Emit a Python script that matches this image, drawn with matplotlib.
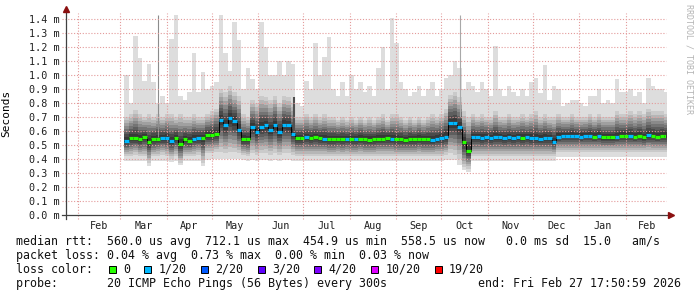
import numpy as np
import matplotlib
matplotlib.use("Agg")
import matplotlib.pyplot as plt
import matplotlib.dates as mdates
from matplotlib.patches import Rectangle
from datetime import datetime, timedelta

# ---------------- data (values in milliseconds, 3-day bins) ----------------
BIN_START = datetime(2025, 3, 3, 12, 0)
BIN_DAYS = 3

MED = [0.53, 0.55, 0.55, 0.54, 0.555, 0.52, 0.54, 0.545, 0.55, 0.55,
       0.53, 0.55, 0.51, 0.54, 0.53, 0.545, 0.55, 0.55, 0.57, 0.57,
       0.58, 0.68, 0.64, 0.69, 0.67, 0.61, 0.54, 0.54, 0.63, 0.59,
       0.63, 0.64, 0.61, 0.64, 0.59, 0.645, 0.64, 0.58, 0.55, 0.55,
       0.555, 0.55, 0.555, 0.55, 0.545, 0.54, 0.54, 0.545, 0.54, 0.545,
       0.54, 0.54, 0.545, 0.54, 0.535, 0.54, 0.545, 0.545, 0.55, 0.545,
       0.54, 0.54, 0.535, 0.54, 0.54, 0.545, 0.54, 0.54, 0.535, 0.545,
       0.55, 0.56, 0.655, 0.655, 0.63, 0.52, 0.46, 0.555, 0.555, 0.55,
       0.555, 0.55, 0.555, 0.555, 0.55, 0.555, 0.55, 0.555, 0.55, 0.555,
       0.55, 0.55, 0.545, 0.55, 0.55, 0.525, 0.56, 0.565, 0.565, 0.565,
       0.565, 0.56, 0.565, 0.565, 0.56, 0.565, 0.555, 0.555, 0.555, 0.56,
       0.565, 0.565, 0.565, 0.56, 0.565, 0.555, 0.57, 0.565, 0.56, 0.565, 0.565]

LOSS = [1, 0, 0, 0, 0, 0, 0, 0, 1, 1,
        1, 0, 0, 0, 0, 1, 1, 0, 0, 0,
        0, 1, 1, 1, 1, 1, 0, 0, 1, 1,
        1, 1, 1, 1, 1, 1, 1, 1, 0, 0,
        1, 0, 0, 0, 1, 0, 0, 0, 0, 1,
        0, 1, 0, 0, 0, 0, 0, 0, 0, 1,
        0, 0, 0, 0, 0, 0, 0, 0, 1, 1,
        1, 1, 1, 1, 1, 0, 0, 1, 1, 1,
        1, 1, 1, 1, 1, 1, 1, 1, 0, 1,
        1, 1, 1, 1, 1, 1, 1, 1, 1, 1,
        1, 1, 1, 1, 0, 1, 0, 0, 0, 1,
        0, 0, 1, 0, 0, 0, 1, 0, 0, 0, 0]

MX = [1.00, 0.80, 1.28, 1.12, 0.96, 1.08, 0.95, 0.80, 0.85, 0.80,
      1.26, 1.43, 0.85, 0.82, 0.88, 1.16, 0.88, 1.02, 0.90, 0.92,
      0.95, 1.43, 1.16, 1.03, 1.38, 1.25, 0.90, 1.05, 0.97, 0.90,
      1.38, 1.20, 1.00, 1.00, 1.10, 1.00, 1.10, 1.08, 0.80, 0.78,
      0.96, 0.90, 1.23, 1.00, 1.13, 1.27, 0.90, 0.85, 0.95, 0.85,
      1.00, 0.90, 0.95, 0.88, 0.92, 0.85, 1.05, 1.20, 0.90, 1.41,
      1.23, 0.95, 0.90, 0.85, 0.88, 0.92, 0.85, 0.90, 0.95, 0.85,
      0.90, 0.98, 1.00, 1.10, 1.05, 0.90, 0.95, 0.92, 0.88, 0.95,
      0.90, 0.85, 1.21, 0.90, 0.85, 0.92, 0.88, 0.85, 0.90, 0.85,
      0.95, 0.98, 0.87, 1.07, 0.82, 0.92, 0.90, 0.78, 0.80, 0.82,
      0.82, 0.80, 0.78, 0.85, 0.85, 0.90, 0.80, 0.82, 0.80, 0.97,
      0.88, 0.88, 0.90, 0.85, 0.88, 0.80, 0.98, 0.92, 0.90, 0.90, 0.88]

Q_HI = [0.70, 0.72, 0.75, 0.72, 0.70, 0.72, 0.70, 0.72, 0.70, 0.72,
        0.72, 0.70, 0.72, 0.70, 0.70, 0.72, 0.70, 0.70, 0.72, 0.74,
        0.76, 0.90, 0.88, 0.92, 0.88, 0.85, 0.72, 0.70, 0.82, 0.80,
        0.85, 0.84, 0.82, 0.85, 0.80, 0.85, 0.84, 0.80, 0.70, 0.70,
        0.72, 0.70, 0.72, 0.70, 0.72, 0.70, 0.70, 0.68, 0.70, 0.68,
        0.70, 0.68, 0.70, 0.68, 0.70, 0.68, 0.70, 0.72, 0.68, 0.72,
        0.72, 0.70, 0.68, 0.70, 0.68, 0.70, 0.68, 0.70, 0.72, 0.70,
        0.72, 0.76, 0.86, 0.88, 0.84, 0.74, 0.70, 0.72, 0.70, 0.72,
        0.70, 0.70, 0.74, 0.70, 0.70, 0.72, 0.70, 0.70, 0.72, 0.70,
        0.72, 0.74, 0.70, 0.72, 0.70, 0.70, 0.72, 0.70, 0.70, 0.72,
        0.70, 0.70, 0.70, 0.72, 0.70, 0.72, 0.70, 0.70, 0.70, 0.74,
        0.72, 0.72, 0.74, 0.72, 0.74, 0.72, 0.76, 0.74, 0.74, 0.74, 0.72]

Q_LO = [0.42, 0.42, 0.43, 0.42, 0.42, 0.37, 0.42, 0.42, 0.43, 0.42,
        0.40, 0.42, 0.37, 0.42, 0.42, 0.42, 0.43, 0.37, 0.44, 0.44,
        0.45, 0.45, 0.44, 0.45, 0.45, 0.44, 0.43, 0.42, 0.44, 0.43,
        0.44, 0.44, 0.43, 0.44, 0.43, 0.44, 0.44, 0.43, 0.42, 0.42,
        0.42, 0.42, 0.42, 0.42, 0.42, 0.42, 0.42, 0.42, 0.42, 0.42,
        0.42, 0.42, 0.42, 0.42, 0.42, 0.42, 0.42, 0.42, 0.42, 0.42,
        0.42, 0.42, 0.42, 0.42, 0.42, 0.42, 0.42, 0.42, 0.42, 0.42,
        0.42, 0.43, 0.44, 0.43, 0.40, 0.34, 0.33, 0.42, 0.42, 0.42,
        0.42, 0.42, 0.42, 0.42, 0.42, 0.42, 0.42, 0.42, 0.42, 0.42,
        0.42, 0.42, 0.42, 0.42, 0.42, 0.42, 0.45, 0.45, 0.45, 0.45,
        0.45, 0.45, 0.45, 0.45, 0.45, 0.45, 0.45, 0.45, 0.45, 0.45,
        0.45, 0.45, 0.45, 0.45, 0.45, 0.45, 0.45, 0.45, 0.45, 0.45, 0.45]

MN = [0.385, 0.385, 0.385, 0.385, 0.385, 0.35, 0.385, 0.385, 0.385, 0.385,
      0.38, 0.385, 0.36, 0.385, 0.385, 0.385, 0.385, 0.35, 0.39, 0.40,
      0.40, 0.40, 0.40, 0.40, 0.40, 0.40, 0.39, 0.385, 0.39, 0.385,
      0.39, 0.39, 0.385, 0.39, 0.385, 0.39, 0.39, 0.385, 0.385, 0.385,
      0.385, 0.385, 0.385, 0.385, 0.385, 0.385, 0.385, 0.385, 0.385, 0.385,
      0.385, 0.385, 0.385, 0.385, 0.385, 0.385, 0.385, 0.385, 0.385, 0.385,
      0.385, 0.385, 0.385, 0.385, 0.385, 0.385, 0.385, 0.385, 0.385, 0.385,
      0.385, 0.39, 0.39, 0.39, 0.36, 0.32, 0.31, 0.385, 0.385, 0.385,
      0.385, 0.385, 0.385, 0.385, 0.385, 0.385, 0.385, 0.385, 0.385, 0.385,
      0.385, 0.385, 0.385, 0.385, 0.385, 0.385, 0.415, 0.415, 0.415, 0.415,
      0.415, 0.415, 0.415, 0.415, 0.415, 0.415, 0.415, 0.415, 0.415, 0.415,
      0.415, 0.415, 0.415, 0.415, 0.415, 0.415, 0.415, 0.415, 0.415, 0.415, 0.415]

# outlier spikes (single samples drawn as thin darker lines)
SPIKE_DATES = [datetime(2025, 3, 25, 18), datetime(2025, 6, 24, 18), datetime(2025, 10, 13, 16)]
SPIKE_LO = [0.56, 0.60, 0.70]
SPIKE_HI = [1.43, 0.84, 1.43]
SPIKE_COLOR = ['#8c8c8c', '#505050', '#a8a8a8']

Y_TICKS = [0.0, 0.1, 0.2, 0.3, 0.4, 0.5, 0.6, 0.7, 0.8, 0.9, 1.0, 1.1, 1.2, 1.3, 1.4]
MONTHS = ["Feb", "Mar", "Apr", "May", "Jun", "Jul", "Aug", "Sep", "Oct", "Nov", "Dec", "Jan", "Feb"]

LOSS_LABELS = ["0", "1/20", "2/20", "3/20", "4/20", "10/20", "19/20"]
LOSS_COLORS = ["#26ff00", "#00b8ff", "#0059ff", "#5e00ff", "#7e00ff", "#dd00ff", "#ff0000"]

LINE1 = "median rtt:  560.0 us avg  712.1 us max  454.9 us min  558.5 us now   0.0 ms sd  15.0   am/s"
LINE2 = "packet loss: 0.04 % avg  0.73 % max  0.00 % min  0.03 % now"
LINE3 = "loss color:"
LINE4 = "probe:       20 ICMP Echo Pings (56 Bytes) every 300s"
END_TEXT = "end: Fri Feb 27 17:50:59 2026"

END = datetime(2026, 2, 27, 17, 50, 59)
START = END - timedelta(days=400)

# ---------------- figure ----------------
W, H = 697, 297
MONO = 'DejaVu Sans Mono'
fig = plt.figure(figsize=(W / 100, H / 100), dpi=100)
fig.patch.set_facecolor('white')
ax_l, ax_b, ax_w, ax_h = 66, 82, 600, 202
ax = fig.add_axes([ax_l / W, ax_b / H, ax_w / W, ax_h / H])
ax.set_facecolor('white')
ymax = 1.4 * 202 / 196
ax.set_ylim(0, ymax)
ax.set_xlim(mdates.date2num(START), mdates.date2num(END))
for s in ax.spines.values():
    s.set_visible(False)

n = len(MED)
edges = mdates.date2num([BIN_START + timedelta(days=BIN_DAYS * i) for i in range(n + 1)])
med = np.array(MED)
mx = np.array(MX); mn = np.array(MN)
qh = np.array(Q_HI); ql = np.array(Q_LO)

def ext(a):
    return np.append(a, a[-1])

ax.fill_between(edges, ext(mn), ext(mx), step='post', color='#dddddd', lw=0, zorder=1)
layers = [(1.0, '#cacaca'), (0.86, '#b6b6b6'), (0.73, '#a0a0a0'), (0.61, '#8a8a8a'),
          (0.49, '#747474'), (0.38, '#5e5e5e'), (0.27, '#4a4a4a'), (0.16, '#383838')]
for f, c in layers:
    lo = med - f * (med - ql)
    hi = med + f * (qh - med)
    ax.fill_between(edges, ext(lo), ext(hi), step='post', color=c, lw=0, zorder=2)

ax.vlines(mdates.date2num(SPIKE_DATES), SPIKE_LO, SPIKE_HI, colors=SPIKE_COLOR,
          linewidth=[0.8, 1.5, 0.8], zorder=3)

# grid
gcol = '#e39a9a'
dash = (0, (1.0, 1.6))
for v in Y_TICKS[1:]:
    ax.plot([-4 / ax_w, 1.0], [v, v], transform=ax.get_yaxis_transform(), color=gcol,
            lw=0.8, linestyle=dash, clip_on=False, zorder=4)
month_starts = [datetime(2025, m, 1) for m in range(2, 13)] + [datetime(2026, 1, 1), datetime(2026, 2, 1), datetime(2026, 3, 1)]
for d in month_starts[:-1]:
    ax.plot([mdates.date2num(d)] * 2, [-4 / ax_h, 1.0], transform=ax.get_xaxis_transform(),
            color=gcol, lw=0.8, linestyle=dash, clip_on=False, zorder=4)

# median line
ax.step(edges, ext(med), where='post', color='black', lw=0.7, zorder=5)
loss_cols = [LOSS_COLORS[v] for v in LOSS]
ax.hlines(med, edges[:-1], edges[1:], colors=loss_cols, linewidth=2.3, zorder=6)

# axes lines and arrows
acol = '#404040'
ax.plot([0, 0], [-4 / ax_h, (215 - 9) / ax_h], transform=ax.transAxes, color=acol, lw=0.9, clip_on=False, zorder=7)
ax.plot([-4 / ax_w, (670 - ax_l) / ax_w], [0, 0], transform=ax.transAxes, color=acol, lw=0.9, clip_on=False, zorder=7)
ax.plot([0], [(215 - 9) / ax_h], marker='^', ms=4.5, color='#8b1010', mec='#8b1010', transform=ax.transAxes, clip_on=False, zorder=8)
ax.plot([(671 - ax_l) / ax_w], [0], marker='>', ms=4.5, color='#8b1010', mec='#8b1010', transform=ax.transAxes, clip_on=False, zorder=8)

# ticks
ax.set_yticks(Y_TICKS)
ax.set_yticklabels([f"{v:.1f} m" for v in Y_TICKS], fontfamily=MONO, fontsize=7.3, color='#202020')
ax.tick_params(axis='y', length=0, pad=4.5)
ms_num = mdates.date2num(month_starts)
mids = (ms_num[:-1] + ms_num[1:]) / 2
ax.set_xticks([])
ax.set_xticks(mids, minor=True)
ax.set_xticklabels(MONTHS, minor=True, fontfamily=MONO, fontsize=7.3, color='#202020')
ax.tick_params(axis='x', which='both', length=0, pad=4.5)

ax.set_ylabel("Seconds", fontfamily=MONO, fontsize=8, labelpad=8)
ax.yaxis.set_label_coords(-(66 - 11) / ax_w, (215 - 113) / ax_h)

fig.text(689 / W, 1 - 4 / H, "RRDTOOL / TOBI OETIKER", rotation=270, ha='center', va='top',
         fontfamily=MONO, fontsize=6.0, color='#b4b4b4')

# legend
FS = 8.35
CW = 7.02
def ftext(x, y, s, **kw):
    fig.text(x / W, 1 - y / H, s, fontfamily=MONO, fontsize=FS, va='center', color='#111111', **kw)

ftext(16, 241.3, LINE1)
ftext(16, 255.3, LINE2)
ftext(16, 269.3, LINE3)
ftext(16, 283.7, LINE4)
ftext(681.0, 283.7, END_TEXT, ha='right')

bx = 108.7
for lab, col in zip(LOSS_LABELS, LOSS_COLORS):
    fig.patches.append(Rectangle((bx / W, 1 - 272.7 / H), 7 / W, 7 / H, transform=fig.transFigure,
                                 facecolor=col, edgecolor='black', lw=0.7))
    ftext(bx + 14.3, 269.3, lab)
    bx = bx + 14.3 + len(lab) * CW + 14.3

fig.savefig("out.png", dpi=100, facecolor='white')
